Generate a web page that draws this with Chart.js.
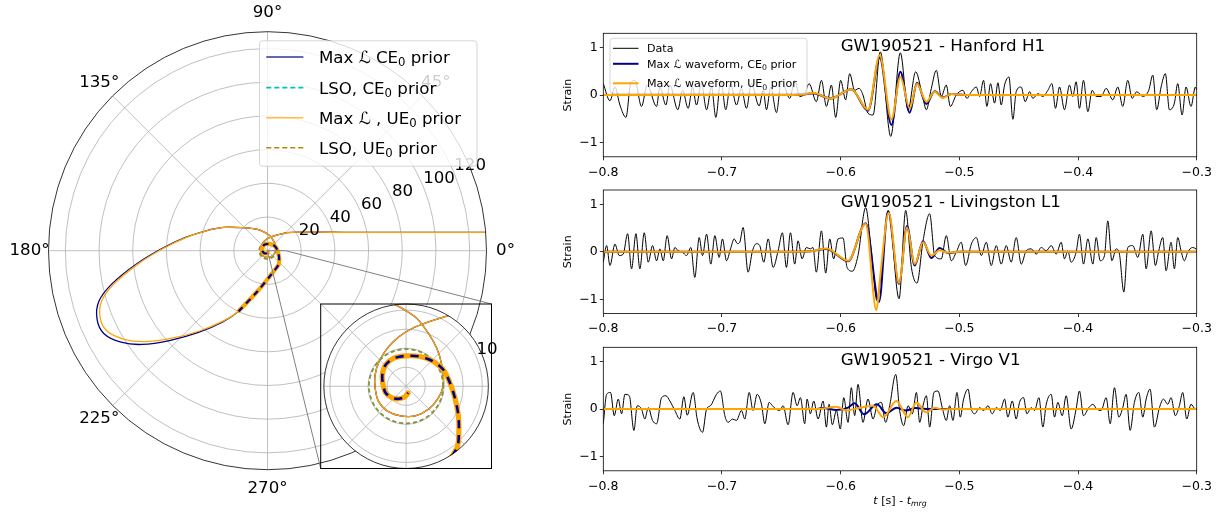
<!DOCTYPE html>
<html>
<head>
<meta charset="utf-8">
<title>GW190521 orbit and strain</title>
<script src="https://cdn.jsdelivr.net/npm/chart.js@4.4.1/dist/chart.umd.min.js"></script>
<style>
  html, body { margin: 0; padding: 0; background: #ffffff; }
  #page { position: relative; width: 1222px; height: 517px; overflow: hidden; background: #ffffff; }
  canvas { position: absolute; }
</style>
</head>
<body>
<div id="page">
  <canvas id="orbitMain" width="540" height="517" style="left:0px;top:0px"></canvas>
  <canvas id="orbitZoom" width="200" height="185" style="left:310px;top:294px"></canvas>
  <canvas id="panelH1" width="682" height="174" style="left:540px;top:13px"></canvas>
  <canvas id="panelL1" width="682" height="174" style="left:540px;top:170px"></canvas>
  <canvas id="panelV1" width="682" height="190" style="left:540px;top:327px"></canvas>
</div>
<script>
// ---------------- orbit (r in units of M, theta in degrees, unwrapped) ----------------
const ue0OrbitR = [
  130.0, 100.6, 70.8, 46.3, 32.0, 22.0, 16.0, 12.5,
  10.65, 8.94, 7.62, 6.56, 5.56, 4.81, 4.34, 4.07, 4.13, 4.08, 3.97, 4.08, 4.22, 4.50, 4.90, 5.46, 6.40, 7.53, 8.99, 9.96, 10.78,
  14.0, 20.4, 29.5, 38.2, 49.1, 62.8, 77.4, 93.5, 102.8, 107.0, 106.6, 100.1, 90.8, 76.9, 62.5, 49.2, 39.6,
  24.6, 14.1, 10.56, 9.06, 7.77, 6.58, 5.78, 5.35, 4.84, 4.32, 3.98, 4.01, 3.89, 3.47, 3.04, 2.82, 2.37, 1.90, 1.40, 0.91
];
const ue0OrbitTheta = [
  4.8, 6.2, 8.85, 13.6, 20.1, 30, 42, 52,
  60.0, 70.8, 84.1, 98.3, 116.4, 137.5, 159.5, 183.1, 208.2, 232.8, 259.3, 287.2, 314.1, 340.3, 362.6, 391, 411, 427, 440.8, 450.5, 457.4,
  475, 498, 512.1, 522, 530.9, 539.2, 545.9, 552.3, 556.8, 561.8, 566.5, 571.7, 576.5, 582.5, 589.7, 597.9, 604.5,
  616.4, 639.8, 668.8, 679.9, 691.7, 706.7, 724.3, 743.8, 762.2, 784.5, 811.3, 833.5, 853.6, 874, 895.8, 918, 939.9, 960, 983, 1006.6
];
const ce0OrbitR = [
  130.0, 100.6, 70.8, 46.3, 32.0, 22.0, 16.0, 12.5,
  10.65, 8.94, 7.62, 6.56, 5.56, 4.81, 4.34, 4.07, 4.13, 4.08, 3.97, 4.08, 4.22, 4.50, 4.90, 5.46, 6.40, 7.53, 8.99, 9.96, 10.78,
  14.0, 20.4, 29.5, 38.3, 49.3, 63.2, 78.2, 94.6, 104.5, 109.0, 108.9, 102.5, 92.9, 78.4, 63.5, 49.9, 39.9,
  24.6, 14.1, 10.56, 9.06, 7.77, 6.58, 5.78, 5.35, 4.84, 4.32, 3.98, 4.01, 3.89, 3.47, 3.04, 2.82, 2.37, 1.90, 1.40, 0.91
];
const ce0OrbitTheta = [
  4.8, 6.2, 8.85, 13.6, 20.1, 30, 42, 52,
  60.0, 70.8, 84.1, 98.3, 116.4, 137.5, 159.5, 183.1, 208.2, 232.8, 259.3, 287.2, 314.1, 340.3, 362.6, 391, 411, 427, 440.8, 450.5, 457.4,
  475, 498, 512.1, 522, 530.8, 539.1, 545.8, 552.1, 556.7, 561.8, 566.8, 572.0, 576.8, 582.7, 589.8, 597.9, 604.5,
  616.4, 639.8, 668.8, 679.9, 691.7, 706.7, 724.3, 743.8, 762.2, 784.5, 811.3, 833.5, 853.6, 874, 895.8, 918, 939.9, 960, 983, 1006.6
];
const lsoRadiusCE0 = 4.88;
const lsoRadiusUE0 = 4.88;
const plungeStartRadius = 40;

const mainRadialTicks = [20, 40, 60, 80, 100, 120];
const mainRadialLabels = ['20', '40', '60', '80', '100', '120'];
const mainRadialMax = 130;
const zoomRadialTicks = [2.5, 5, 7.5, 10];
const zoomRadialLabels = ['', '', '', '10'];
const zoomRadialMax = 10.8;
const angleTicks = [0, 45, 90, 135, 180, 225, 270, 315];
const angleLabels = ['0°', '45°', '90°', '135°', '180°', '225°', '270°', '315°'];

// ---------------- strain time series (whitened, arbitrary units) ----------------
const timeTicks = [-0.8, -0.7, -0.6, -0.5, -0.4, -0.3];
const strainTicks = [-1, 0, 1];

const hanfordTime = [-0.8000,-0.7944,-0.7902,-0.7860,-0.7809,-0.7770,-0.7734,-0.7678,-0.7630,-0.7551,
  -0.7523,-0.7473,-0.7439,-0.7372,-0.7332,-0.7285,-0.7248,-0.7215,-0.7173,-0.7130,
  -0.7088,-0.7052,-0.7010,-0.6968,-0.6928,-0.6878,-0.6836,-0.6794,-0.6752,-0.6687,
  -0.6653,-0.6625,-0.6589,-0.6541,-0.6499,-0.6429,-0.6387,-0.6345,-0.6303,-0.6266,
  -0.6205,-0.6162,-0.6120,-0.6078,-0.6042,-0.6000,-0.5958,-0.5924,-0.5882,-0.5845,
  -0.5812,-0.5770,-0.5727,-0.5666,-0.5578,-0.5497,-0.5432,-0.5368,-0.5312,-0.5278,
  -0.5236,-0.5194,-0.5152,-0.5110,-0.5076,-0.5026,-0.4970,-0.4936,-0.4899,-0.4857,
  -0.4829,-0.4796,-0.4768,-0.4737,-0.4703,-0.4675,-0.4647,-0.4619,-0.4582,-0.4549,
  -0.4521,-0.4479,-0.4445,-0.4408,-0.4380,-0.4338,-0.4296,-0.4254,-0.4220,-0.4190,
  -0.4156,-0.4114,-0.4072,-0.4044,-0.4016,-0.3988,-0.3954,-0.3917,-0.3881,-0.3847,
  -0.3805,-0.3763,-0.3707,-0.3665,-0.3623,-0.3581,-0.3544,-0.3505,-0.3454,-0.3404,
  -0.3370,-0.3337,-0.3300,-0.3264,-0.3230,-0.3188,-0.3160,-0.3123,-0.3090,-0.3048,
  -0.3011,-0.3000];
const hanfordStrain = [0.24,-0.12,0.17,-0.21,-0.47,0.24,0.31,-0.24,0.21,-0.24,
  0.17,-0.21,0.21,-0.31,0.10,-0.28,0.17,-0.21,0.24,-0.31,
  0.17,-0.47,0.31,-0.31,0.24,-0.21,0.14,-0.28,0.24,-0.23,
  0.10,-0.31,0.17,-0.37,0.31,-0.07,0.31,-0.03,0.03,0.24,
  -0.14,0.31,-0.24,0.21,-0.47,0.31,-0.10,0.45,0.10,0.14,
  0.00,-0.38,-0.42,0.91,-0.87,0.89,-0.31,0.49,0.00,-0.31,
  0.14,0.52,-0.03,0.21,-0.24,0.00,0.10,-0.07,0.07,0.17,
  -0.03,0.31,-0.24,0.24,-0.17,0.26,-0.21,0.21,0.38,-0.51,
  0.07,0.17,-0.14,0.07,-0.07,0.03,-0.03,0.10,0.24,-0.28,
  0.17,-0.31,0.21,-0.03,0.28,-0.28,0.31,-0.35,0.10,-0.03,
  -0.03,0.14,-0.10,0.17,-0.24,0.31,-0.07,0.07,-0.03,0.10,
  0.42,-0.31,0.17,0.45,-0.31,-0.17,0.24,-0.42,0.17,-0.24,
  0.17,0.10];
const hanfordUE0Time = [-0.8, -0.64, -0.632, -0.6232, -0.6086, -0.5910, -0.5769, -0.5671, -0.5572, -0.5497, -0.5418, -0.5357, -0.5278, -0.5208, -0.5138, -0.5067, -0.495, -0.3];
const hanfordUE0 = [0, 0, 0.01, 0.05, -0.07, 0.12, -0.31, 0.84, -0.51, 0.38, -0.28, 0.24, -0.14, 0.07, -0.06, 0.02, 0, 0];
const hanfordCE0Time = [-0.8, -0.64, -0.632, -0.6232, -0.6086, -0.5910, -0.5769, -0.5671, -0.5572, -0.5497, -0.5418, -0.5357, -0.5278, -0.5208, -0.5138, -0.5067, -0.495, -0.3];
const hanfordCE0 = [0, 0, 0.01, 0.04, -0.07, 0.12, -0.33, 0.79, -0.63, 0.49, -0.37, 0.26, -0.19, 0.08, -0.05, 0.02, 0, 0];

const livingstonTime = [-0.8000,-0.7972,-0.7944,-0.7902,-0.7866,-0.7832,-0.7795,-0.7762,-0.7725,-0.7692,
  -0.7655,-0.7621,-0.7585,-0.7551,-0.7523,-0.7495,-0.7462,-0.7425,-0.7397,-0.7369,
  -0.7332,-0.7299,-0.7262,-0.7229,-0.7192,-0.7164,-0.7130,-0.7094,-0.7060,-0.7024,
  -0.6996,-0.6962,-0.6928,-0.6897,-0.6870,-0.6850,-0.6822,-0.6780,-0.6743,-0.6710,
  -0.6682,-0.6648,-0.6611,-0.6569,-0.6527,-0.6491,-0.6457,-0.6423,-0.6387,-0.6359,
  -0.6325,-0.6289,-0.6255,-0.6233,-0.6205,-0.6162,-0.6126,-0.6092,-0.6059,-0.6022,
  -0.5980,-0.5946,-0.5901,-0.5854,-0.5789,-0.5742,-0.5694,-0.5657,-0.5597,-0.5508,
  -0.5452,-0.5404,-0.5357,-0.5306,-0.5250,-0.5208,-0.5152,-0.5110,-0.5068,-0.5026,
  -0.4984,-0.4947,-0.4899,-0.4857,-0.4815,-0.4773,-0.4731,-0.4689,-0.4647,-0.4605,
  -0.4563,-0.4521,-0.4478,-0.4437,-0.4394,-0.4352,-0.4310,-0.4268,-0.4226,-0.4184,
  -0.4142,-0.4114,-0.4086,-0.4058,-0.4016,-0.3988,-0.3954,-0.3917,-0.3875,-0.3847,
  -0.3813,-0.3777,-0.3749,-0.3715,-0.3679,-0.3651,-0.3614,-0.3581,-0.3539,-0.3496,
  -0.3454,-0.3426,-0.3384,-0.3348,-0.3320,-0.3286,-0.3258,-0.3216,-0.3188,-0.3160,
  -0.3132,-0.3104,-0.3076,-0.3034,-0.3006,-0.3000];
const livingstonStrain = [-0.22,0.13,-0.29,0.16,-0.08,-0.05,0.38,-0.36,0.38,-0.36,
  0.40,-0.22,0.13,-0.19,0.06,-0.19,0.34,-0.15,0.09,0.02,
  -0.01,-0.08,0.09,-0.54,0.30,-0.08,0.37,-0.26,0.34,-0.12,
  0.27,-0.19,0.06,0.27,0.17,0.20,0.51,-0.43,0.02,0.17,
  0.13,-0.22,0.27,-0.33,0.02,0.40,-0.33,0.40,-0.26,0.23,
  -0.15,0.09,0.06,0.09,-0.43,0.44,-0.45,0.27,-0.15,0.27,
  0.29,-0.33,-0.41,-0.08,0.93,0.02,-1.03,-0.43,0.86,-0.99,
  0.87,-0.33,-0.66,0.23,0.80,-0.08,-0.15,0.34,-0.19,-0.01,
  0.20,-0.29,0.16,0.30,-0.08,0.20,-0.29,0.13,-0.26,0.13,
  -0.22,0.30,-0.26,0.02,0.06,-0.05,0.09,0.02,0.13,-0.05,
  0.20,-0.15,0.02,-0.22,-0.01,0.37,-0.26,0.27,-0.26,0.30,
  -0.19,-0.08,0.65,-0.19,0.06,-0.05,-0.85,0.09,0.13,-0.12,
  0.37,-0.36,0.44,-0.29,0.02,0.30,-0.40,0.20,-0.36,0.30,
  0.02,-0.19,-0.01,0.09,0.06,0.05];
const livingstonUE0Time = [-0.8, -0.64, -0.625, -0.612, -0.5938, -0.5789, -0.5699, -0.5666, -0.5595, -0.5508, -0.5441, -0.5376, -0.5306, -0.5236, -0.5166, -0.5096, -0.50, -0.3];
const livingstonUE0 = [0, 0, 0.01, 0.07, -0.19, 0.59, -1.23, -0.5, 0.82, -0.66, 0.51, -0.26, 0.2, -0.08, 0.03, -0.02, 0, 0];
const livingstonCE0Time = [-0.8, -0.64, -0.625, -0.612, -0.5938, -0.5789, -0.5677, -0.5601, -0.5508, -0.5441, -0.5376, -0.5306, -0.5236, -0.5166, -0.5096, -0.50, -0.3];
const livingstonCE0 = [0, 0, 0.01, 0.06, -0.2, 0.6, -1.06, 0.86, -0.68, 0.54, -0.29, 0.22, -0.13, 0.08, -0.03, 0, 0];

const virgoTime = [-0.8000,-0.7972,-0.7939,-0.7908,-0.7874,-0.7846,-0.7818,-0.7781,-0.7742,-0.7714,
  -0.7678,-0.7650,-0.7621,-0.7585,-0.7551,-0.7509,-0.7473,-0.7439,-0.7397,-0.7355,
  -0.7321,-0.7293,-0.7243,-0.7209,-0.7164,-0.7130,-0.7097,-0.7046,-0.7013,-0.6976,
  -0.6948,-0.6912,-0.6878,-0.6836,-0.6808,-0.6771,-0.6738,-0.6704,-0.6667,-0.6639,
  -0.6603,-0.6575,-0.6547,-0.6513,-0.6485,-0.6443,-0.6401,-0.6367,-0.6339,-0.6303,
  -0.6283,-0.6255,-0.6227,-0.6190,-0.6148,-0.6120,-0.6098,-0.6070,-0.6036,-0.6003,
  -0.5974,-0.5938,-0.5910,-0.5882,-0.5854,-0.5812,-0.5770,-0.5727,-0.5694,-0.5657,
  -0.5621,-0.5587,-0.5536,-0.5503,-0.5469,-0.5432,-0.5396,-0.5362,-0.5334,-0.5306,
  -0.5278,-0.5250,-0.5214,-0.5180,-0.5144,-0.5110,-0.5082,-0.5054,-0.5020,-0.4992,
  -0.4964,-0.4927,-0.4899,-0.4871,-0.4829,-0.4796,-0.4759,-0.4723,-0.4689,-0.4655,
  -0.4619,-0.4591,-0.4554,-0.4521,-0.4493,-0.4459,-0.4431,-0.4394,-0.4366,-0.4330,
  -0.4296,-0.4268,-0.4226,-0.4198,-0.4170,-0.4133,-0.4100,-0.4058,-0.4016,-0.3988,
  -0.3954,-0.3909,-0.3875,-0.3842,-0.3805,-0.3763,-0.3729,-0.3693,-0.3656,-0.3623,
  -0.3595,-0.3561,-0.3525,-0.3488,-0.3454,-0.3426,-0.3393,-0.3356,-0.3314,-0.3280,
  -0.3244,-0.3216,-0.3180,-0.3146,-0.3118,-0.3084,-0.3048,-0.3011,-0.3000];
const virgoStrain = [-0.31,0.31,0.35,-0.14,0.21,-0.10,0.31,0.28,-0.45,0.07,
  0.00,-0.21,0.03,-0.24,-0.31,0.24,0.28,0.17,-0.03,-0.21,
  0.26,-0.13,0.35,-0.21,-0.49,0.00,0.07,0.31,0.38,-0.14,
  -0.28,-0.21,-0.24,-0.03,-0.21,0.35,-0.03,0.31,0.10,-0.31,
  0.14,0.07,0.00,-0.03,0.07,-0.33,0.35,0.07,0.24,-0.31,
  0.21,-0.10,0.17,-0.21,0.17,-0.38,0.10,-0.33,-0.03,-0.42,
  0.24,-0.28,0.45,-0.14,0.52,-0.28,0.21,-0.21,0.07,0.14,
  -0.28,0.07,0.73,-0.03,-0.35,0.07,-0.10,0.35,-0.28,0.07,
  0.28,-0.38,0.35,0.38,0.03,-0.24,0.07,-0.24,0.35,-0.17,
  0.21,0.42,0.00,-0.10,0.03,-0.03,0.07,-0.10,0.03,-0.03,
  0.21,-0.17,0.17,-0.21,0.14,0.24,-0.10,0.03,-0.03,0.24,
  -0.38,0.10,0.31,-0.17,0.14,-0.14,0.28,-0.42,0.00,0.38,
  -0.14,0.03,0.10,0.00,-0.03,0.24,-0.31,0.45,-0.17,0.03,
  0.31,-0.45,0.14,0.35,-0.17,0.21,0.42,-0.38,0.03,0.21,
  0.10,0.24,-0.14,0.07,0.35,-0.21,0.10,0.00,0.00];
const virgoUE0Time = [-0.8, -0.62, -0.6036, -0.5952, -0.5850, -0.5727, -0.5640, -0.5531, -0.5433, -0.5362, -0.5280, -0.5208, -0.5140, -0.505, -0.3];
const virgoUE0 = [0, 0, 0.05, -0.03, 0.02, 0.07, -0.17, 0.17, -0.17, 0.14, -0.07, 0.03, -0.01, 0, 0];
const virgoCE0Time = [-0.8, -0.62, -0.6148, -0.6036, -0.5938, -0.5882, -0.5804, -0.5694, -0.5615, -0.5530, -0.5450, -0.5370, -0.5280, -0.3];
const virgoCE0 = [0, 0, 0.02, -0.02, 0.03, 0.12, -0.11, 0.10, -0.09, 0.03, -0.03, 0.02, 0, 0];

// ---------------- styling ----------------
const FONT = '"DejaVu Sans", "Liberation Sans", sans-serif';
const NAVY = '#00008b';
const ORANGE = '#ffa500';
const CYAN = '#00bfbf';
const GOLD = '#b8860b';
Chart.defaults.font.family = FONT;

const toRad = d => d * Math.PI / 180;
const polarXY = (rs, ths) => rs.map((r, i) => ({ x: r * Math.cos(toRad(ths[i])), y: r * Math.sin(toRad(ths[i])) }));
const circleXY = r => { const p = []; for (let a = 0; a <= 360; a += 6) p.push({ x: r * Math.cos(toRad(a)), y: r * Math.sin(toRad(a)) }); return p; };
const seriesXY = (xs, ys) => xs.map((x, i) => ({ x, y: ys[i] }));
const minusSign = s => String(s).replace('-', '\u2212');

// final plunge: from the first return inside plungeStartRadius after apocentre
function plungeTail(rs, ths) {
  let i = 1;
  while (i < rs.length && rs[i] <= rs[i - 1]) i++;
  let apo = i;
  for (let k = i; k < rs.length; k++) if (rs[k] > rs[apo]) apo = k;
  let s = apo;
  while (s < rs.length && rs[s] > plungeStartRadius) s++;
  return { r: rs.slice(s), th: ths.slice(s) };
}
const ue0Plunge = plungeTail(ue0OrbitR, ue0OrbitTheta);
const ce0Plunge = plungeTail(ce0OrbitR, ce0OrbitTheta);

// simple rich text: $..$ italic, _{..} subscript
function richParts(str) {
  const parts = []; let it = false, buf = '', i = 0;
  const flush = () => { if (buf) { parts.push({ t: buf, it, sub: false }); buf = ''; } };
  while (i < str.length) {
    const c = str[i];
    if (c === '$') { flush(); it = !it; i++; continue; }
    if (c === '_' && str[i + 1] === '{') { flush(); const j = str.indexOf('}', i); parts.push({ t: str.slice(i + 2, j), it, sub: true }); i = j + 1; continue; }
    buf += c; i++;
  }
  flush();
  return parts;
}
function drawRich(ctx, str, x, yMid, size, align) {
  const parts = richParts(str);
  let w = 0;
  const items = parts.map(p => {
    const fs = p.sub ? size * 0.7 : size;
    ctx.font = (p.it ? 'italic ' : '') + fs + 'px ' + FONT;
    const m = ctx.measureText(p.t).width; w += m; return { p, fs, m };
  });
  let cx = align === 'center' ? x - w / 2 : (align === 'right' ? x - w : x);
  const base = yMid + size * 0.36;
  ctx.textAlign = 'left'; ctx.textBaseline = 'alphabetic';
  items.forEach(({ p, fs, m }) => {
    ctx.font = (p.it ? 'italic ' : '') + fs + 'px ' + FONT;
    ctx.fillText(p.t, cx, base + (p.sub ? size * 0.2 : 0));
    cx += m;
  });
}
function roundRect(ctx, x, y, w, h, r) {
  ctx.beginPath();
  ctx.moveTo(x + r, y); ctx.lineTo(x + w - r, y); ctx.arcTo(x + w, y, x + w, y + r, r);
  ctx.lineTo(x + w, y + h - r); ctx.arcTo(x + w, y + h, x + w - r, y + h, r);
  ctx.lineTo(x + r, y + h); ctx.arcTo(x, y + h, x, y + h - r, r);
  ctx.lineTo(x, y + r); ctx.arcTo(x, y, x + r, y, r); ctx.closePath();
}
function drawLegend(ctx, box, entries, fontSize) {
  ctx.save();
  roundRect(ctx, box.x, box.y, box.w, box.h, 3);
  ctx.fillStyle = 'rgba(255,255,255,0.8)'; ctx.fill();
  ctx.strokeStyle = 'rgba(204,204,204,0.8)'; ctx.lineWidth = 1; ctx.stroke();
  entries.forEach(e => {
    const y = box.y + e.dy;
    ctx.beginPath(); ctx.setLineDash(e.dash || []);
    ctx.strokeStyle = e.color; ctx.lineWidth = e.width;
    ctx.moveTo(box.x + box.h0, y); ctx.lineTo(box.x + box.h1, y); ctx.stroke();
    ctx.setLineDash([]);
    ctx.fillStyle = '#000';
    drawRich(ctx, e.label, box.x + box.tx, y, fontSize, 'left');
  });
  ctx.restore();
}

// ---------------- polar frame plugin ----------------
const polarFrame = {
  id: 'polarFrame',
  beforeDatasetsDraw(chart, args, o) {
    const ctx = chart.ctx, sx = chart.scales.x, sy = chart.scales.y;
    const cx = sx.getPixelForValue(0), cy = sy.getPixelForValue(0);
    const k = sx.getPixelForValue(1) - cx, R = k * o.rMax;
    ctx.save();
    if (o.disc) { ctx.beginPath(); ctx.arc(cx, cy, R, 0, 2 * Math.PI); ctx.fillStyle = '#fff'; ctx.fill(); }
    ctx.strokeStyle = '#b0b0b0'; ctx.lineWidth = 0.8;
    o.rings.forEach(r => { ctx.beginPath(); ctx.arc(cx, cy, r * k, 0, 2 * Math.PI); ctx.stroke(); });
    angleTicks.forEach(a => {
      ctx.beginPath(); ctx.moveTo(cx, cy);
      ctx.lineTo(cx + R * Math.cos(toRad(a)), cy - R * Math.sin(toRad(a))); ctx.stroke();
    });
    if (o.angleLabels) {
      ctx.fillStyle = '#000'; ctx.font = '16.67px ' + FONT; ctx.textAlign = 'center'; ctx.textBaseline = 'middle';
      angleTicks.forEach((a, i) => {
        const d = R + 19;
        ctx.fillText(angleLabels[i], cx + d * Math.cos(toRad(a)), cy - d * Math.sin(toRad(a)));
      });
    }
    ctx.restore();
    ctx.save();
    ctx.beginPath(); ctx.arc(cx, cy, R, 0, 2 * Math.PI); ctx.clip();
  },
  afterDatasetsDraw(chart, args, o) {
    const ctx = chart.ctx, sx = chart.scales.x, sy = chart.scales.y;
    ctx.restore();
    const cx = sx.getPixelForValue(0), cy = sy.getPixelForValue(0);
    const k = sx.getPixelForValue(1) - cx, R = k * o.rMax;
    ctx.save();
    ctx.strokeStyle = '#000'; ctx.lineWidth = 0.8;
    ctx.beginPath(); ctx.arc(cx, cy, R, 0, 2 * Math.PI); ctx.stroke();
    ctx.fillStyle = '#000'; ctx.font = '16.67px ' + FONT; ctx.textAlign = 'left'; ctx.textBaseline = 'alphabetic';
    o.rings.forEach((r, i) => {
      const lab = o.ringLabels[i]; if (!lab) return;
      const px = cx + r * k * Math.cos(toRad(22.5)), py = cy - r * k * Math.sin(toRad(22.5));
      ctx.fillText(lab, px, py - 3.3);
    });
    if (o.insetBox) {
      // outline of the magnified region and its connectors
      const b = o.insetBox;
      const zx = cx + zoomRadialMax * k;
      ctx.strokeStyle = '#808080'; ctx.lineWidth = 1;
      ctx.beginPath(); ctx.moveTo(cx, cy); ctx.lineTo(zx, cy); ctx.stroke();
      ctx.beginPath(); ctx.moveTo(zx, cy); ctx.lineTo(b.right, b.top); ctx.stroke();
      ctx.beginPath(); ctx.moveTo(cx, cy); ctx.lineTo(b.left, b.bottom); ctx.stroke();
    }
    ctx.restore();
  },
  afterDraw(chart, args, o) {
    const ctx = chart.ctx;
    if (o.legend) drawLegend(ctx, o.legend.box, o.legend.entries, 16.67);
    if (o.frameBox) {
      const b = o.frameBox;
      ctx.save(); ctx.strokeStyle = '#000'; ctx.lineWidth = 1;
      ctx.strokeRect(b.left, b.top, b.right - b.left, b.bottom - b.top);
      ctx.restore();
    }
  }
};

// datasets listed top-most first
function orbitDatasets(thick) {
  const w = thick ? 5.2 : 4.2;
  return [
    { data: polarXY(ce0Plunge.r, ce0Plunge.th), borderColor: NAVY, borderWidth: thick ? 2.6 : 2.2, borderDash: thick ? [8, 7] : [6, 5], tension: 0.3 },
    { data: polarXY(ue0Plunge.r, ue0Plunge.th), borderColor: ORANGE, borderWidth: w, tension: 0.3, borderCapStyle: 'round' },
    { data: circleXY(lsoRadiusUE0), borderColor: 'rgba(184,134,11,0.8)', borderWidth: 1.7, borderDash: [4, 3], tension: 0.4 },
    { data: circleXY(lsoRadiusCE0), borderColor: CYAN, borderWidth: 1.5, borderDash: [4, 3], tension: 0.4 },
    { data: polarXY(ue0OrbitR, ue0OrbitTheta), borderColor: ORANGE, borderWidth: 1.3, tension: 0.3 },
    { data: polarXY(ce0OrbitR, ce0OrbitTheta), borderColor: NAVY, borderWidth: 1.3, tension: 0.3 }
  ].map(d => Object.assign({ showLine: true, pointRadius: 0, fill: false }, d));
}

const insetBox = { left: 320.7, top: 304, right: 491.5, bottom: 468.5 };
const mainCenter = { x: 267.5, y: 250.7 }, mainRadius = 219;

// main polar panel
(function () {
  const c = document.getElementById('orbitMain');
  const lb = { x: 259.5, y: 40.8, w: 217.5, h: 125.4, h0: 6.8, h1: 43.9, tx: 59.4 };
  new Chart(c, {
    type: 'scatter',
    data: { datasets: orbitDatasets(false) },
    options: {
      responsive: false, animation: false, devicePixelRatio: 1,
      layout: { padding: { left: mainCenter.x - mainRadius, right: c.width - mainCenter.x - mainRadius, top: mainCenter.y - mainRadius, bottom: c.height - mainCenter.y - mainRadius } },
      scales: {
        x: { type: 'linear', min: -mainRadialMax, max: mainRadialMax, display: false },
        y: { type: 'linear', min: -mainRadialMax, max: mainRadialMax, display: false }
      },
      plugins: {
        legend: { display: false }, tooltip: { enabled: false },
        polarFrame: {
          rMax: mainRadialMax, rings: mainRadialTicks, ringLabels: mainRadialLabels, angleLabels: true,
          insetBox: insetBox,
          legend: { box: lb, entries: [
            { label: 'Max ℒ CE_{0} prior', color: 'rgba(0,0,128,0.6)', width: 2, dy: 16.1 },
            { label: 'LSO, CE_{0} prior', color: CYAN, width: 1.6, dash: [5, 3], dy: 46.8 },
            { label: 'Max ℒ , UE_{0} prior', color: 'rgba(255,165,0,0.75)', width: 1.6, dy: 76.9 },
            { label: 'LSO, UE_{0} prior', color: GOLD, width: 1.6, dash: [5, 3], dy: 107 }
          ] }
        }
      }
    },
    plugins: [polarFrame]
  });
})();

// magnified inner region
(function () {
  const c = document.getElementById('orbitZoom');
  const offX = 310, offY = 294;
  const R = (insetBox.bottom - insetBox.top) / 2;
  const ccx = (insetBox.left + insetBox.right) / 2 - offX, ccy = (insetBox.top + insetBox.bottom) / 2 - offY;
  new Chart(c, {
    type: 'scatter',
    data: { datasets: orbitDatasets(true) },
    options: {
      responsive: false, animation: false, devicePixelRatio: 1,
      layout: { padding: { left: ccx - R, right: c.width - ccx - R, top: ccy - R, bottom: c.height - ccy - R } },
      scales: {
        x: { type: 'linear', min: -zoomRadialMax, max: zoomRadialMax, display: false },
        y: { type: 'linear', min: -zoomRadialMax, max: zoomRadialMax, display: false }
      },
      plugins: {
        legend: { display: false }, tooltip: { enabled: false },
        polarFrame: {
          rMax: zoomRadialMax, rings: zoomRadialTicks, ringLabels: zoomRadialLabels, angleLabels: false, disc: true,
          frameBox: { left: insetBox.left - offX, top: insetBox.top - offY, right: insetBox.right - offX, bottom: insetBox.bottom - offY }
        }
      }
    },
    plugins: [polarFrame]
  });
})();

// ---------------- strain panels ----------------
const panelDecor = {
  id: 'panelDecor',
  afterDatasetsDraw(chart, args, o) {
    const ctx = chart.ctx, a = chart.chartArea;
    ctx.save();
    ctx.strokeStyle = '#000'; ctx.lineWidth = 0.8;
    ctx.strokeRect(a.left, a.top, a.right - a.left, a.bottom - a.top);
    ctx.fillStyle = '#000'; ctx.font = '16.67px ' + FONT; ctx.textAlign = 'left'; ctx.textBaseline = 'middle';
    ctx.fillText(o.title, a.left + 0.4 * (a.right - a.left), a.top + 13);
    if (o.xlabel) { ctx.fillStyle = '#000'; drawRich(ctx, o.xlabel, (a.left + a.right) / 2, a.bottom + 29, 11.1, 'center'); }
    ctx.restore();
    if (o.legend) {
      drawLegend(ctx, { x: a.left + 6.7, y: a.top + 5, w: 197, h: 55, h0: 3, h1: 28.5, tx: 37 }, [
        { label: 'Data', color: '#000', width: 1, dy: 10 },
        { label: 'Max ℒ waveform, CE_{0} prior', color: NAVY, width: 2, dy: 25.5 },
        { label: 'Max ℒ waveform, UE_{0} prior', color: ORANGE, width: 2, dy: 45 }
      ], 11.1);
    }
  }
};

const plotLeft = 603.3, plotRight = 1196.7, plotHeight = 123.5;
function makePanel(p) {
  const c = document.getElementById(p.id);
  const canvasTop = parseFloat(c.style.top), canvasLeft = parseFloat(c.style.left);
  const padTop = p.plotTop - canvasTop;
  const xAxisH = c.height - padTop - plotHeight;
  const line = (xs, ys, color, w) => ({ data: seriesXY(xs, ys), borderColor: color, borderWidth: w, showLine: true, pointRadius: 0, cubicInterpolationMode: 'monotone', fill: false });
  return new Chart(c, {
    type: 'scatter',
    data: { datasets: [
      line(p.ue0Time, p.ue0, ORANGE, 2),
      line(p.ce0Time, p.ce0, NAVY, 2),
      line(p.time, p.strain, '#000', 1)
    ] },
    options: {
      responsive: false, animation: false, devicePixelRatio: 1,
      layout: { padding: { top: padTop, left: 0, right: c.width - (plotRight - canvasLeft), bottom: 0 } },
      scales: {
        x: {
          type: 'linear', min: -0.8, max: -0.3,
          afterBuildTicks: s => { s.ticks = timeTicks.map(v => ({ value: v })); },
          afterFit: s => { s.height = xAxisH; },
          ticks: { callback: v => minusSign(v.toFixed(1)), font: { family: FONT, size: 12.5 }, color: '#000', padding: 4.5, maxRotation: 0, autoSkip: false },
          grid: { drawOnChartArea: false, drawTicks: true, tickLength: 3.5, color: '#000', lineWidth: 0.8 },
          border: { display: false }
        },
        y: {
          type: 'linear', min: -1.3, max: 1.3,
          afterBuildTicks: s => { s.ticks = strainTicks.map(v => ({ value: v })); },
          afterFit: s => { s.width = plotLeft - canvasLeft; },
          ticks: { callback: v => minusSign(v), font: { family: FONT, size: 12.5 }, color: '#000', padding: 2 },
          grid: { drawOnChartArea: false, drawTicks: true, tickLength: 3.5, color: '#000', lineWidth: 0.8 },
          border: { display: false },
          title: { display: true, text: 'Strain', color: '#000', font: { family: FONT, size: 11.1 }, padding: { top: 21.3, bottom: 0 } }
        }
      },
      plugins: { legend: { display: false }, tooltip: { enabled: false }, panelDecor: { title: p.title, legend: p.legend, xlabel: p.xlabel } }
    },
    plugins: [panelDecor]
  });
}

makePanel({ id: 'panelH1', plotTop: 33.3, title: 'GW190521 - Hanford H1', time: hanfordTime, strain: hanfordStrain,
  ue0Time: hanfordUE0Time, ue0: hanfordUE0, ce0Time: hanfordCE0Time, ce0: hanfordCE0, legend: true });
makePanel({ id: 'panelL1', plotTop: 190, title: 'GW190521 - Livingston L1', time: livingstonTime, strain: livingstonStrain,
  ue0Time: livingstonUE0Time, ue0: livingstonUE0, ce0Time: livingstonCE0Time, ce0: livingstonCE0 });
makePanel({ id: 'panelV1', plotTop: 347.3, title: 'GW190521 - Virgo V1', time: virgoTime, strain: virgoStrain,
  ue0Time: virgoUE0Time, ue0: virgoUE0, ce0Time: virgoCE0Time, ce0: virgoCE0, xlabel: '$t$ [s] - $t_{mrg}$' });
</script>
</body>
</html>
